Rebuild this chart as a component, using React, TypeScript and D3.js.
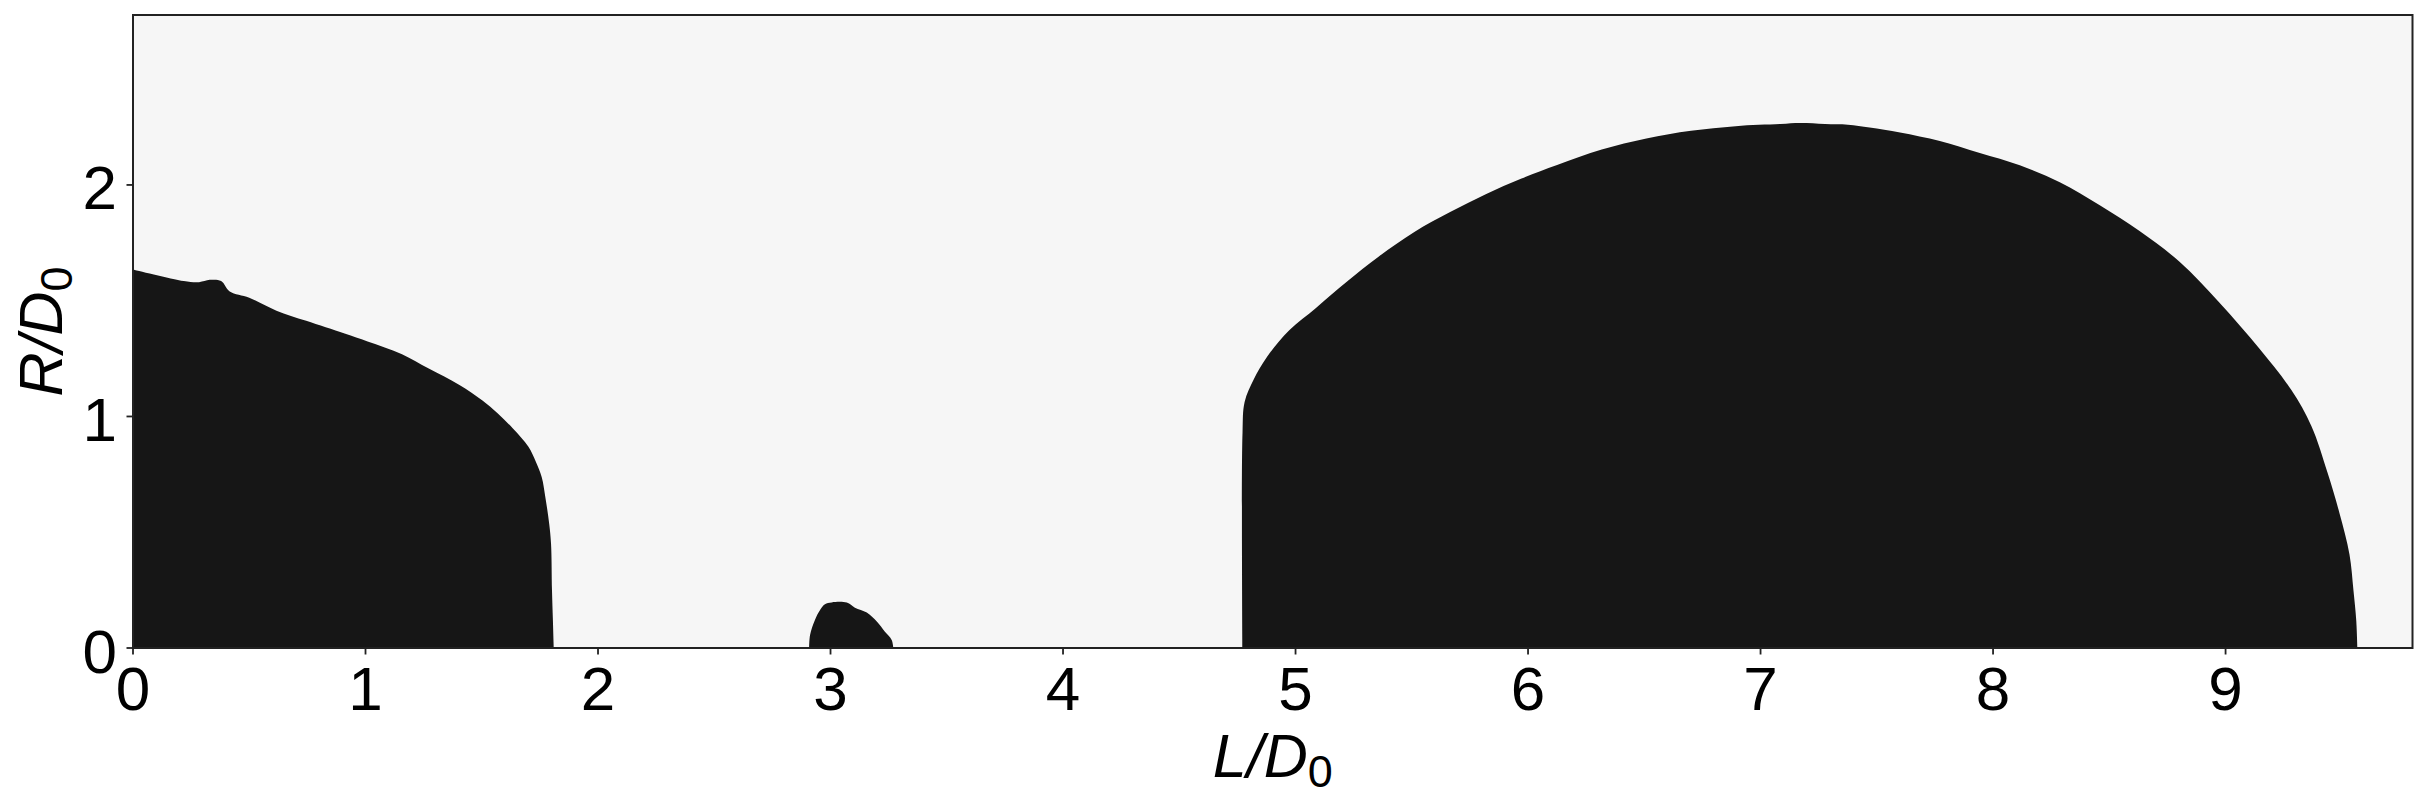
import React, { useEffect, useRef } from "react";
import * as d3 from "d3";

// boundary of the first region (L/D0, R/D0)
const region1L = [0, 0.218, 0.284, 0.33, 0.379, 0.416, 0.5, 0.617, 0.745, 0.91, 1.009, 1.157, 1.272, 1.404, 1.503, 1.568, 1.634, 1.7, 1.733, 1.758, 1.774, 1.79, 1.798, 1.802, 1.806, 1.81];
const region1R = [1.635, 1.585, 1.58, 1.59, 1.585, 1.54, 1.513, 1.457, 1.413, 1.358, 1.324, 1.269, 1.207, 1.136, 1.069, 1.014, 0.948, 0.87, 0.803, 0.737, 0.648, 0.537, 0.449, 0.25, 0.12, 0];

// small bump around L/D0 = 3
const region2L = [2.908, 2.912, 2.933, 2.955, 2.976, 3.005, 3.07, 3.105, 3.156, 3.199, 3.234, 3.263, 3.27];
const region2R = [0, 0.056, 0.121, 0.164, 0.189, 0.197, 0.196, 0.174, 0.153, 0.114, 0.07, 0.035, 0];

// large dome
const region3L = [4.772, 4.772, 4.781, 4.82, 4.877, 4.973, 5.088, 5.223, 5.357, 5.511, 5.665, 5.818, 5.972, 6.125, 6.317, 6.509, 6.701, 6.893, 7.086, 7.17, 7.277, 7.376, 7.469, 7.6, 7.771, 7.943, 8.115, 8.287, 8.459, 8.63, 8.802, 8.974, 9.146, 9.283, 9.369, 9.438, 9.49, 9.533, 9.55, 9.562, 9.567];
const region3R = [0, 0.93, 1.063, 1.16, 1.257, 1.372, 1.469, 1.584, 1.69, 1.797, 1.883, 1.96, 2.028, 2.086, 2.153, 2.201, 2.234, 2.254, 2.263, 2.267, 2.263, 2.26, 2.248, 2.227, 2.19, 2.138, 2.085, 2.012, 1.912, 1.801, 1.668, 1.491, 1.292, 1.114, 0.959, 0.759, 0.582, 0.404, 0.249, 0.12, 0];

const xTicks = [0, 1, 2, 3, 4, 5, 6, 7, 8, 9];
const yTicks = [0, 1, 2];

const xDomain = [0, 9.804];
const yDomain = [0, 2.734];

const W = 2427;
const H = 805;

const App: React.FC = () => {
    const svgRef = useRef<SVGSVGElement | null>(null);

    useEffect(() => {
        if (!svgRef.current) return;
        const svg = d3.select(svgRef.current);
        svg.selectAll("*").remove();

        const left = 133, right = 2412.5, top = 15, bottom = 648;
        const font = "'Liberation Sans', Arial, Helvetica, sans-serif";

        const x = d3.scaleLinear().domain(xDomain).range([left, right]);
        const y = d3.scaleLinear().domain(yDomain).range([bottom, top]);

        svg.append("rect")
            .attr("width", W).attr("height", H).attr("fill", "#ffffff");

        svg.append("rect")
            .attr("x", left).attr("y", top)
            .attr("width", right - left).attr("height", bottom - top)
            .attr("fill", "#f6f6f6");

        const area = d3.area<[number, number]>()
            .x(d => x(d[0]))
            .y0(y(0))
            .y1(d => y(d[1]))
            .curve(d3.curveCatmullRom.alpha(0.5));

        [[region1L, region1R], [region2L, region2R], [region3L, region3R]].forEach(([ls, rs]) => {
            const pts = ls.map((l, i) => [l, rs[i]] as [number, number]);
            svg.append("path")
                .attr("d", area(pts) as string)
                .attr("fill", "#161616");
        });

        // spines
        svg.append("rect")
            .attr("x", left).attr("y", top)
            .attr("width", right - left).attr("height", bottom - top)
            .attr("fill", "none")
            .attr("stroke", "#222")
            .attr("stroke-width", 2);

        const xAxis = svg.append("g");
        xTicks.forEach(t => {
            xAxis.append("line")
                .attr("x1", x(t)).attr("x2", x(t))
                .attr("y1", bottom).attr("y2", bottom + 6.5)
                .attr("stroke", "#222").attr("stroke-width", 1.8);
            xAxis.append("text")
                .attr("x", x(t)).attr("y", 710)
                .attr("text-anchor", "middle")
                .attr("font-family", font)
                .attr("font-size", 62)
                .attr("fill", "#000")
                .text(String(t));
        });

        const yAxis = svg.append("g");
        yTicks.forEach(t => {
            yAxis.append("line")
                .attr("x1", left - 6.5).attr("x2", left)
                .attr("y1", y(t)).attr("y2", y(t))
                .attr("stroke", "#222").attr("stroke-width", 1.8);
            yAxis.append("text")
                .attr("x", 117).attr("y", y(t) + 24.5)
                .attr("text-anchor", "end")
                .attr("font-family", font)
                .attr("font-size", 62)
                .attr("fill", "#000")
                .text(String(t));
        });

        const xTitle = svg.append("text")
            .attr("x", (left + right) / 2).attr("y", 777)
            .attr("text-anchor", "middle")
            .attr("font-family", font)
            .attr("font-size", 61)
            .attr("fill", "#000");
        xTitle.append("tspan").attr("font-style", "italic").text("L/D");
        xTitle.append("tspan").attr("font-size", 45).attr("dy", 10).text("0");

        const yTitle = svg.append("text")
            .attr("transform", `translate(62, ${(top + bottom) / 2}) rotate(-90)`)
            .attr("text-anchor", "middle")
            .attr("font-family", font)
            .attr("font-size", 61)
            .attr("fill", "#000");
        yTitle.append("tspan").attr("font-style", "italic").text("R/D");
        yTitle.append("tspan").attr("font-size", 45).attr("dy", 10).text("0");
    }, []);

    return (
        <svg
            ref={svgRef}
            width={W}
            height={H}
            style={{ position: "absolute", left: 0, top: 0, display: "block" }}
        />
    );
};

export default App;
